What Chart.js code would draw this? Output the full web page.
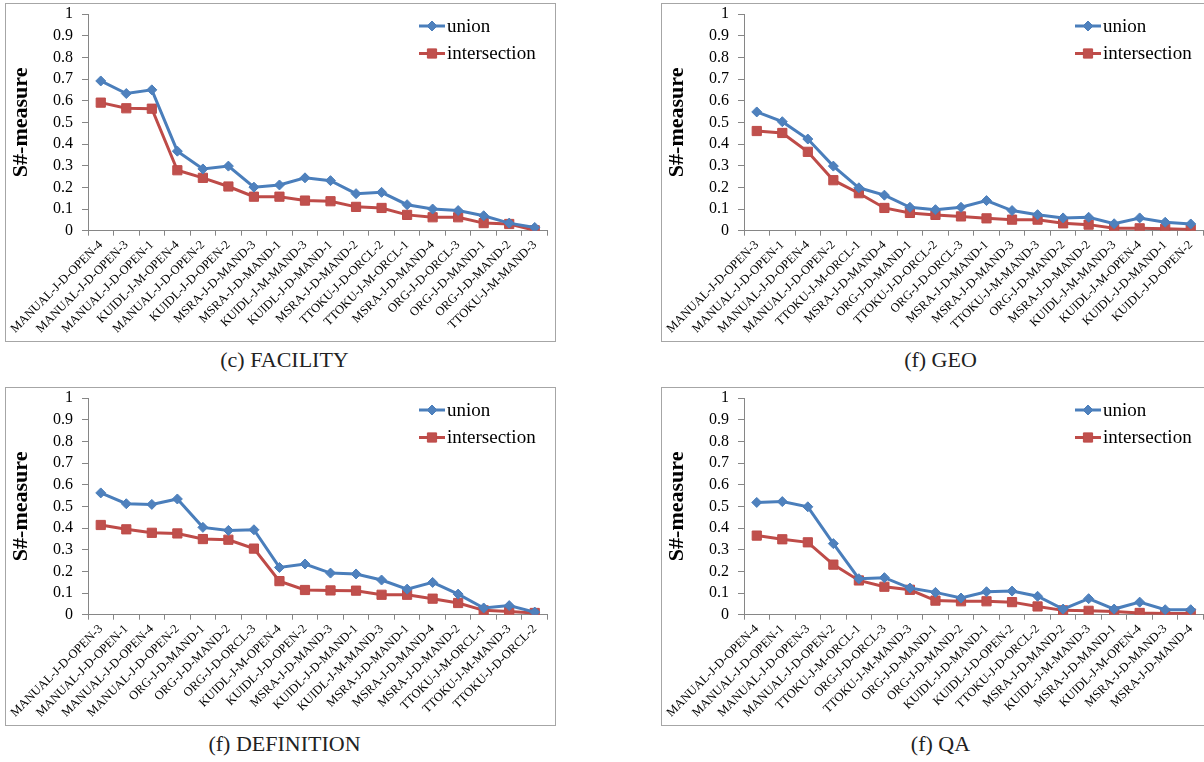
<!DOCTYPE html>
<html><head><meta charset="utf-8">
<script src="https://cdn.jsdelivr.net/npm/chart.js@4.4.1/dist/chart.umd.min.js"></script>
<style>
html,body{margin:0;padding:0;background:#fff;width:1204px;height:762px;overflow:hidden;position:relative;}
.panel{position:absolute;width:549px;height:337px;border:1px solid #a6a6a6;}
.panel canvas{position:absolute;left:0;top:0;}
.cap{position:absolute;width:551px;text-align:center;font-family:"Liberation Serif";font-size:22px;line-height:26px;color:#222;}
</style></head><body>
<div class="panel" style="left:5px;top:3px"><canvas id="c1" width="549" height="337"></canvas></div>
<div class="panel" style="left:661px;top:3px"><canvas id="c2" width="549" height="337"></canvas></div>
<div class="panel" style="left:5px;top:387px"><canvas id="c3" width="549" height="337"></canvas></div>
<div class="panel" style="left:661px;top:387px"><canvas id="c4" width="549" height="337"></canvas></div>
<div class="cap" style="left:9px;top:347px">(c) FACILITY</div>
<div class="cap" style="left:665px;top:347px">(f) GEO</div>
<div class="cap" style="left:9px;top:731px">(f) DEFINITION</div>
<div class="cap" style="left:665px;top:731px">(f) QA</div>
<script>
// ---- data ----
const facilityLabels = ["MANUAL-J-D-OPEN-4","MANUAL-J-D-OPEN-3","MANUAL-J-D-OPEN-1","KUIDL-J-M-OPEN-4","MANUAL-J-D-OPEN-2","KUIDL-J-D-OPEN-2","MSRA-J-D-MAND-3","MSRA-J-D-MAND-1","KUIDL-J-M-MAND-3","KUIDL-J-D-MAND-1","MSRA-J-D-MAND-2","TTOKU-J-D-ORCL-2","TTOKU-J-M-ORCL-1","MSRA-J-D-MAND-4","ORG-J-D-ORCL-3","ORG-J-D-MAND-1","ORG-J-D-MAND-2","TTOKU-J-M-MAND-3"];
const facilityUnion = [0.691,0.633,0.650,0.367,0.285,0.298,0.201,0.211,0.244,0.231,0.171,0.177,0.120,0.100,0.093,0.069,0.035,0.015];
const facilityInter = [0.591,0.565,0.563,0.279,0.244,0.204,0.157,0.157,0.139,0.136,0.110,0.105,0.073,0.062,0.062,0.035,0.031,0.002];

const geoLabels = ["MANUAL-J-D-OPEN-3","MANUAL-J-D-OPEN-1","MANUAL-J-D-OPEN-4","MANUAL-J-D-OPEN-2","TTOKU-J-M-ORCL-1","MSRA-J-D-MAND-4","ORG-J-D-MAND-1","TTOKU-J-D-ORCL-2","ORG-J-D-ORCL-3","MSRA-J-D-MAND-1","MSRA-J-D-MAND-3","TTOKU-J-M-MAND-3","ORG-J-D-MAND-2","MSRA-J-D-MAND-2","KUIDL-J-M-MAND-3","KUIDL-J-M-OPEN-4","KUIDL-J-D-MAND-1","KUIDL-J-D-OPEN-2"];
const geoUnion = [0.548,0.503,0.423,0.298,0.198,0.164,0.108,0.097,0.108,0.139,0.093,0.074,0.059,0.062,0.032,0.059,0.039,0.031];
const geoInter = [0.460,0.451,0.364,0.233,0.173,0.105,0.082,0.073,0.066,0.057,0.051,0.051,0.034,0.028,0.011,0.011,0.009,0.006];

const defLabels = ["MANUAL-J-D-OPEN-3","MANUAL-J-D-OPEN-1","MANUAL-J-D-OPEN-4","MANUAL-J-D-OPEN-2","ORG-J-D-MAND-1","ORG-J-D-MAND-2","ORG-J-D-ORCL-3","KUIDL-J-M-OPEN-4","KUIDL-J-D-OPEN-2","MSRA-J-D-MAND-3","KUIDL-J-D-MAND-1","KUIDL-J-M-MAND-3","MSRA-J-D-MAND-1","MSRA-J-D-MAND-4","MSRA-J-D-MAND-2","TTOKU-J-M-ORCL-1","TTOKU-J-M-MAND-3","TTOKU-J-D-ORCL-2"];
const defUnion = [0.562,0.512,0.509,0.534,0.403,0.389,0.392,0.218,0.234,0.192,0.188,0.160,0.118,0.149,0.095,0.031,0.042,0.012];
const defInter = [0.414,0.394,0.378,0.375,0.349,0.346,0.305,0.155,0.114,0.112,0.111,0.092,0.092,0.074,0.054,0.020,0.015,0.008];

const qaLabels = ["MANUAL-J-D-OPEN-4","MANUAL-J-D-OPEN-1","MANUAL-J-D-OPEN-3","MANUAL-J-D-OPEN-2","TTOKU-J-M-ORCL-1","ORG-J-D-ORCL-3","TTOKU-J-M-MAND-3","ORG-J-D-MAND-1","ORG-J-D-MAND-2","KUIDL-J-D-MAND-1","KUIDL-J-D-OPEN-2","TTOKU-J-D-ORCL-2","MSRA-J-D-MAND-2","KUIDL-J-M-MAND-3","MSRA-J-D-MAND-1","KUIDL-J-M-OPEN-4","MSRA-J-D-MAND-3","MSRA-J-D-MAND-4"];
const qaUnion = [0.518,0.522,0.498,0.328,0.166,0.171,0.123,0.103,0.077,0.106,0.109,0.085,0.026,0.074,0.026,0.058,0.023,0.023];
const qaInter = [0.365,0.348,0.334,0.231,0.158,0.129,0.115,0.065,0.062,0.062,0.058,0.038,0.020,0.018,0.015,0.008,0.006,0.006];

const seriesNames = ["union","intersection"];
const yTitle = "S#-measure";

// ---- drawing ----
const SERIF = "'Liberation Serif', 'Times New Roman', serif";
const insideLegend = {
  id: 'insideLegend',
  afterDraw(chart) {
    const ctx = chart.ctx;
    ctx.save();
    chart.data.datasets.forEach((d, i) => {
      const y = 22 + i * 27.5;
      const x0 = 413;
      ctx.strokeStyle = d.borderColor; ctx.lineWidth = 3;
      ctx.beginPath(); ctx.moveTo(x0, y); ctx.lineTo(x0 + 26, y); ctx.stroke();
      ctx.fillStyle = d.backgroundColor; ctx.strokeStyle = d.pointBorderColor; ctx.lineWidth = 1;
      Chart.helpers.drawPoint(ctx, {pointStyle: d.pointStyle, radius: d.pointRadius, borderWidth: 1, rotation: 0}, x0 + 13, y);
      ctx.fillStyle = '#000';
      ctx.font = "19px " + SERIF;
      ctx.textBaseline = 'middle'; ctx.textAlign = 'left';
      ctx.fillText(d.label, x0 + 28, y + 1);
    });
    ctx.restore();
  }
};

function makeChart(id, labels, union, inter) {
  new Chart(document.getElementById(id), {
    type: 'line',
    data: {
      labels: labels,
      datasets: [
        {label: seriesNames[0], data: union, borderColor: '#4A7EBB', backgroundColor: '#4F81BD',
         pointBorderColor: '#4A7EBB', borderWidth: 3, pointStyle: 'rectRot', pointRadius: 5,
         pointBorderWidth: 1, tension: 0, fill: false},
        {label: seriesNames[1], data: inter, borderColor: '#BE4B48', backgroundColor: '#C0504D',
         pointBorderColor: '#BE4B48', borderWidth: 3, pointStyle: 'rect', pointRadius: 6.5,
         pointBorderWidth: 1, tension: 0, fill: false}
      ]
    },
    options: {
      responsive: false, animation: false, devicePixelRatio: 1,
      layout: {padding: {top: 10, right: 1, left: 0, bottom: 0}},
      plugins: {legend: {display: false}, tooltip: {enabled: false}},
      scales: {
        x: {
          offset: true,
          grid: {offset: true, drawOnChartArea: false, tickLength: 5, color: '#868686'},
          border: {color: '#868686', width: 1},
          ticks: {autoSkip: false, minRotation: 45, maxRotation: 45, color: '#000',
                  font: {family: SERIF, size: 12.5}, padding: 2},
          afterFit(s) { s.height = 110.3; }
        },
        y: {
          min: 0, max: 1,
          ticks: {stepSize: 0.1, autoSkip: false, color: '#000', font: {family: SERIF, size: 16}, padding: 9,
                  callback: v => String(Math.round(v * 10) / 10)},
          grid: {drawOnChartArea: false, tickLength: 6, color: '#868686'},
          border: {color: '#868686', width: 1},
          title: {display: true, text: yTitle, color: '#000',
                  font: {family: SERIF, size: 22, weight: 'bold'}, padding: {top: 2, bottom: 0}},
          afterFit(s) { s.width = 82; s.paddingTop = 0; s.paddingBottom = 0; }
        }
      }
    },
    plugins: [insideLegend]
  });
}
makeChart('c1', facilityLabels, facilityUnion, facilityInter);
makeChart('c2', geoLabels, geoUnion, geoInter);
makeChart('c3', defLabels, defUnion, defInter);
makeChart('c4', qaLabels, qaUnion, qaInter);
</script>
</body></html>
